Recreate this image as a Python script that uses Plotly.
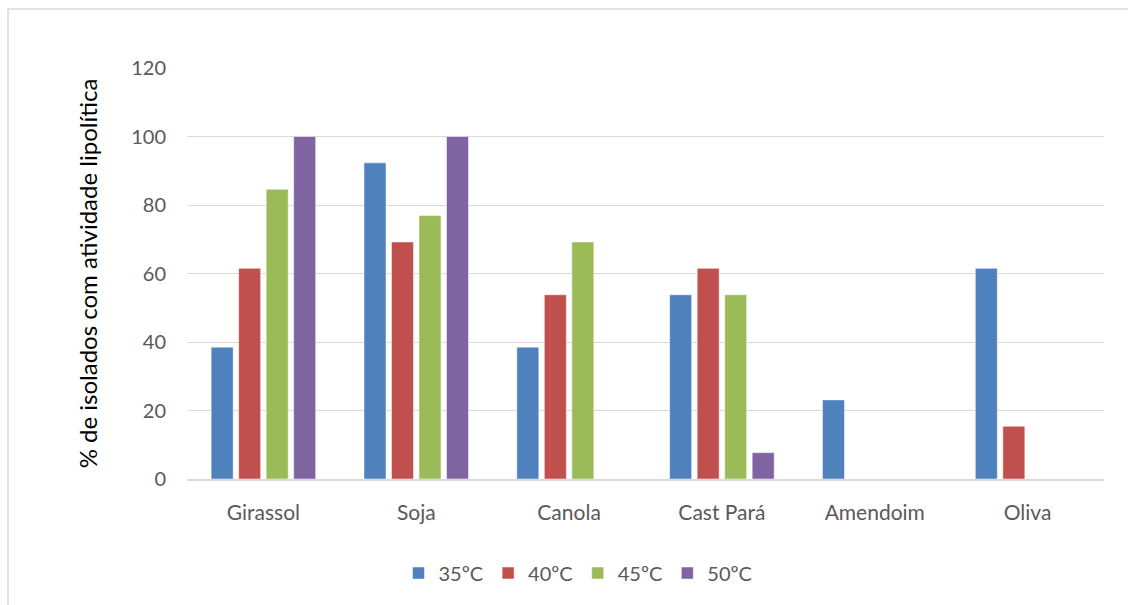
import plotly.graph_objects as go

categories = ["Girassol", "Soja", "Canola", "Cast Pará", "Amendoim", "Oliva"]
series_names = ["35ºC", "40ºC", "45ºC", "50ºC"]
v35 = [38.5, 92.3, 38.5, 53.8, 23.1, 61.5]
v40 = [61.5, 69.2, 53.8, 61.5, 0, 15.4]
v45 = [84.6, 76.9, 69.2, 53.8, 0, 0]
v50 = [100, 100, 0, 7.7, 0, 0]
y_ticks = [0, 20, 40, 60, 80, 100, 120]

colors = ["#4F81BD", "#C0504D", "#9BBB59", "#8064A2"]
FONT = "Lato, 'Open Sans', sans-serif"

fig = go.Figure()
for name, vals, col in zip(series_names, [v35, v40, v45, v50], colors):
    fig.add_trace(go.Bar(
        x=categories, y=vals, name=name,
        marker=dict(color=col, line=dict(color="white", width=0.5)),
    ))

L, R, T, B = 187, 24, 68, 126
W, H = 1128, 605
pw, ph = W - L - R, H - T - B

fig.update_layout(
    width=W, height=H,
    margin=dict(l=L, r=R, t=T, b=B),
    paper_bgcolor="white", plot_bgcolor="white",
    barmode="group", bargap=0.28, bargroupgap=0.2,
    font=dict(family=FONT, size=20, color="#595959"),
    showlegend=True,
    legend=dict(
        orientation="h", x=(578 - L) / pw, xanchor="center",
        y=(H - B - 573) / ph, yanchor="middle",
        font=dict(size=20, color="#595959"),
        itemwidth=30, traceorder="normal",
    ),
    xaxis=dict(
        showgrid=False, showline=True, linecolor="#D9D9D9", linewidth=1.5,
        ticks="", ticklabelstandoff=14, tickfont=dict(size=21, color="#595959"),
    ),
    yaxis=dict(
        range=[0, 120], tickvals=y_ticks, showgrid=True, gridcolor="#D9D9D9",
        gridwidth=1, zeroline=False, showline=False, ticks="",
        ticklabelstandoff=20, tickfont=dict(size=20, color="#595959"),
        title=dict(text="% de isolados com atividade lipolítica",
                   font=dict(size=24, color="black"), standoff=26),
    ),
    shapes=[dict(
        type="rect", xref="paper", yref="paper",
        x0=(8 - L) / pw, x1=(W + 20 - L) / pw,
        y0=-(B + 20) / ph, y1=(H - B - 9) / ph,
        line=dict(color="#D9D9D9", width=1.5), fillcolor="rgba(0,0,0,0)",
        layer="below",
    )],
)

fig.write_html("out.html")
